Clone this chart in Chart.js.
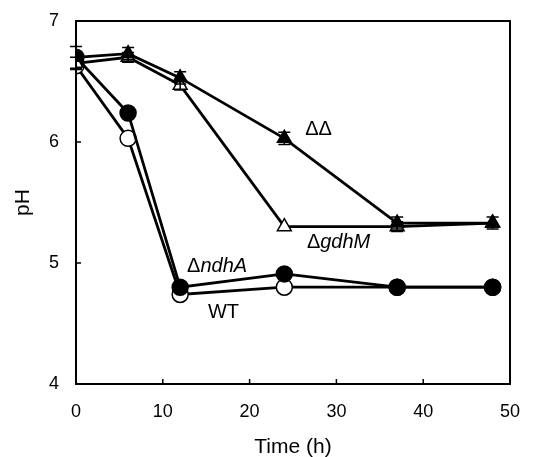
<!DOCTYPE html>
<html>
<head>
<meta charset="utf-8">
<script src="https://cdn.jsdelivr.net/npm/chart.js@4"></script>
<style>
  html, body { margin: 0; padding: 0; background: #fff; }
  #wrap { width: 534px; height: 457px; }
</style>
</head>
<body>
<div id="wrap"><canvas id="phChart" width="534" height="457"></canvas></div>
<script>
const timePoints = [0, 6, 12, 24, 37, 48];
const wtValues = [6.63, 6.03, 4.74, 4.80, 4.80, 4.80];
const ndhAValues = [6.70, 6.24, 4.80, 4.91, 4.80, 4.80];
const gdhMValues = [6.65, 6.70, 6.47, 5.30, 5.30, 5.33];
const doubleValues = [6.70, 6.73, 6.53, 6.03, 5.33, 5.33];
const doubleErr = [0.09, 0.05, 0.05, 0.05, 0.05, 0.05];
const gdhMErr = [0.05, 0.04, 0.04, 0.0, 0.04, 0.0];
const xTicks = [0, 10, 20, 30, 40, 50];
const yTicks = [4, 5, 6, 7];

const FONT = "'Liberation Sans', Arial, sans-serif";

function toPoints(values) {
  return values.map((v, i) => ({ x: timePoints[i], y: v }));
}

// error bars, inward ticks, frame and the strain labels
const extrasPlugin = {
  id: "extras",
  afterDatasetsDraw(chart) {
    const ctx = chart.ctx;
    const xs = chart.scales.x;
    const ys = chart.scales.y;
    const area = chart.chartArea;
    ctx.save();
    ctx.strokeStyle = "#000";
    ctx.lineWidth = 1.5;
    [[doubleValues, doubleErr], [gdhMValues, gdhMErr]].forEach(([vals, errs]) => {
      vals.forEach((v, i) => {
        if (!errs[i]) return;
        const px = xs.getPixelForValue(timePoints[i]);
        const top = ys.getPixelForValue(v + errs[i]);
        const bot = ys.getPixelForValue(v - errs[i]);
        ctx.beginPath();
        ctx.moveTo(px, top); ctx.lineTo(px, bot);
        ctx.moveTo(px - 6, top); ctx.lineTo(px + 6, top);
        ctx.moveTo(px - 6, bot); ctx.lineTo(px + 6, bot);
        ctx.stroke();
      });
    });

    // frame
    ctx.lineWidth = 2;
    ctx.strokeRect(area.left, area.top, area.right - area.left, area.bottom - area.top);

    // inward ticks
    ctx.lineWidth = 1.5;
    ctx.beginPath();
    xTicks.forEach(t => {
      const px = xs.getPixelForValue(t);
      ctx.moveTo(px, area.bottom); ctx.lineTo(px, area.bottom - 5);
    });
    yTicks.forEach(t => {
      const py = ys.getPixelForValue(t);
      ctx.moveTo(area.left, py); ctx.lineTo(area.left + 5, py);
    });
    ctx.stroke();

    // labels
    ctx.fillStyle = "#000";
    ctx.textBaseline = "middle";
    ctx.textAlign = "left";
    function label(prefix, italic, x, y) {
      const px = xs.getPixelForValue(x);
      const py = ys.getPixelForValue(y);
      ctx.font = "20px " + FONT;
      ctx.fillText(prefix, px, py);
      const w = ctx.measureText(prefix).width;
      if (italic) {
        ctx.font = "italic 20px " + FONT;
        ctx.fillText(italic, px + w, py);
      }
    }
    label("\u0394\u0394", "", 26.4, 6.10);
    label("\u0394", "gdhM", 26.6, 5.17);
    label("\u0394", "ndhA", 12.8, 4.97);
    label("WT", "", 15.2, 4.595);
    ctx.restore();
  }
};

function series(label, values, style, filled, order) {
  return {
    label: label,
    data: toPoints(values),
    borderColor: "#000",
    borderWidth: 2.8,
    pointStyle: style,
    pointRadius: 8,
    pointBorderWidth: 1.5,
    pointBorderColor: "#000",
    pointBackgroundColor: filled ? "#000" : "#fff",
    order: order,
  };
}

new Chart(document.getElementById("phChart"), {
  type: "line",
  data: {
    datasets: [
      series("WT", wtValues, "circle", false, 4),
      series("ΔndhA", ndhAValues, "circle", true, 3),
      series("ΔgdhM", gdhMValues, "triangle", false, 2),
      series("ΔΔ", doubleValues, "triangle", true, 1),
    ],
  },
  plugins: [extrasPlugin],
  options: {
    responsive: false,
    animation: false,
    layout: { padding: { top: 21, right: 24, left: 0, bottom: 0 } },
    plugins: { legend: { display: false }, tooltip: { enabled: false } },
    scales: {
      x: {
        type: "linear",
        min: 0,
        max: 50,
        afterBuildTicks: (s) => { s.ticks = xTicks.map(v => ({ value: v })); },
        afterFit: (s) => { s.height = 73; s.paddingLeft = 0; s.paddingRight = 0; },
        grid: { display: false, drawTicks: false },
        border: { display: false },
        ticks: { color: "#000", padding: 17, font: { family: FONT, size: 18 } },
        title: {
          display: true,
          text: "Time (h)",
          color: "#000",
          font: { family: FONT, size: 21 },
          padding: { top: 0, bottom: -3 },
        },
      },
      y: {
        min: 4,
        max: 7,
        afterBuildTicks: (s) => { s.ticks = yTicks.map(v => ({ value: v })); },
        afterFit: (s) => { s.width = 76; s.paddingTop = 0; s.paddingBottom = 0; },
        grid: { display: false, drawTicks: false },
        border: { display: false },
        ticks: { color: "#000", padding: 17, font: { family: FONT, size: 18 } },
        title: {
          display: true,
          text: "pH",
          color: "#000",
          font: { family: FONT, size: 21 },
          padding: 11,
        },
      },
    },
  },
});
</script>
</body>
</html>
